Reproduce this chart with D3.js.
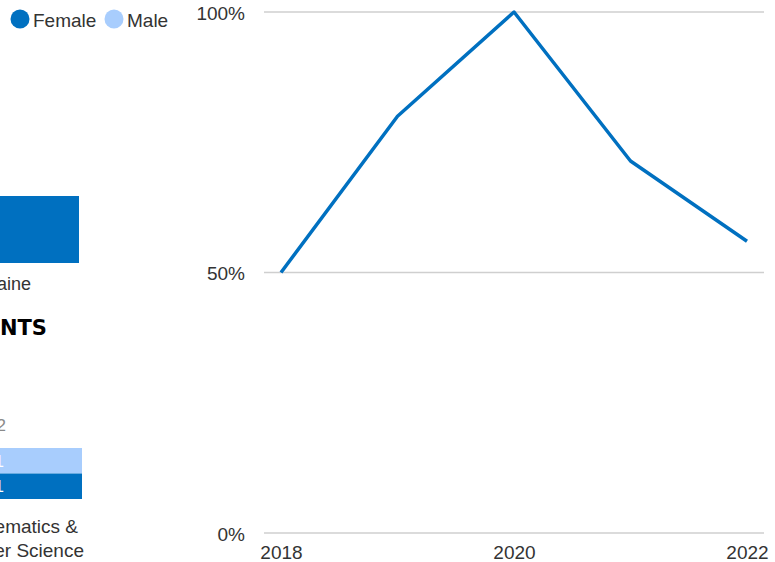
<!DOCTYPE html>
<html>
<head>
<meta charset="utf-8">
<script src="https://cdn.jsdelivr.net/npm/d3@7/dist/d3.min.js"></script>
<style>
  html, body { margin: 0; padding: 0; background: #fff; overflow: hidden; }
  svg { display: block; font-family: "Liberation Sans", Arial, sans-serif; }
</style>
</head>
<body>
<svg id="chart" width="775" height="562"></svg>
<script>
// ---- Data ----
const years = [2018, 2019, 2020, 2021, 2022];
const femaleShare = [0.50, 0.80, 1.00, 0.714, 0.56];
const yTickValues = [0, 0.5, 1];
const xTickValues = [2018, 2020, 2022];
const legendLabels = ["Female", "Male"];

// fragments of neighbouring visuals (cut off at the left edge)
const stateCategories = ["Maine"];
const stateValues = [2];
const fieldCategories = ["Mathematics & Computer Science"];
const fieldMale = [1];
const fieldFemale = [1];

const colors = { Female: "#0070c0", Male: "#a8cdfd" };
const textColor = "#333333";
const FONT = "'Liberation Sans', Arial, sans-serif";

const svg = d3.select("#chart");

// ---- Legend ----
const legend = svg.append("g");
const legendX = [20, 114];
legendLabels.forEach(function (name, i) {
  legend.append("circle").attr("cx", legendX[i]).attr("cy", 19).attr("r", 9.5).attr("fill", colors[name]);
  legend.append("text").attr("x", legendX[i] + 13).attr("y", 20).attr("dy", "0.35em")
    .attr("font-size", 19).attr("fill", textColor).text(name);
});

// ---- Line chart ----
const x = d3.scaleLinear().domain([2018, 2022]).range([281, 747]);
const y = d3.scaleLinear().domain([0, 1]).range([533, 12]);

const grid = svg.append("g");
grid.selectAll("line").data(yTickValues).join("line")
  .attr("x1", 264).attr("x2", 764)
  .attr("y1", d => y(d)).attr("y2", d => y(d))
  .attr("stroke", "#cfcfcf").attr("stroke-width", 1.5);

const yAxis = svg.append("g").attr("transform", "translate(245,1)")
  .call(d3.axisLeft(y).tickValues(yTickValues).tickFormat(d3.format(".0%")).tickSize(0).tickPadding(0));
yAxis.select(".domain").remove();
yAxis.selectAll("text").attr("font-size", 19).attr("fill", textColor).attr("font-family", FONT);

const xAxis = svg.append("g").attr("transform", "translate(0,545)")
  .call(d3.axisBottom(x).tickValues(xTickValues).tickFormat(d3.format("d")).tickSize(0).tickPadding(0));
xAxis.select(".domain").remove();
xAxis.selectAll("text").attr("font-size", 19).attr("fill", textColor).attr("font-family", FONT);

const line = d3.line().x((d, i) => x(years[i])).y(d => y(d));
svg.append("path").datum(femaleShare)
  .attr("d", line).attr("fill", "none")
  .attr("stroke", colors.Female).attr("stroke-width", 3.5)
  .attr("stroke-linejoin", "round").attr("stroke-linecap", "butt");

// ---- Left fragments ----
// state bar
const sx = d3.scaleLinear().domain([0, 2]).range([-120, 79]);
const sy = d3.scaleBand().domain(stateCategories).range([196, 263]);
svg.append("g").selectAll("rect").data(stateValues).join("rect")
  .attr("x", sx(0)).attr("y", (d, i) => sy(stateCategories[i]))
  .attr("width", d => sx(d) - sx(0)).attr("height", sy.bandwidth())
  .attr("fill", colors.Female);
svg.append("text").attr("x", 31).attr("y", 284).attr("dy", "0.35em")
  .attr("text-anchor", "end").attr("font-size", 18).attr("fill", textColor)
  .text(stateCategories[0]);

svg.append("text").attr("x", 47).attr("y", 328).attr("dy", "0.35em")
  .attr("text-anchor", "end").attr("font-size", 21).attr("font-weight", "bold")
  .attr("font-family", "'DejaVu Sans', sans-serif").attr("fill", "#000")
  .text("STUDENTS");

// field axis value label fragment
svg.append("text").attr("x", 6).attr("y", 425).attr("dy", "0.35em")
  .attr("text-anchor", "end").attr("font-size", 17).attr("fill", "#8a8a8a")
  .text("2");

// grouped bars
const fx = d3.scaleLinear().domain([0, 1]).range([-120, 82]);
const fy = d3.scaleBand().domain(["Male", "Female"]).range([448, 499]);
const groups = [
  { key: "Male", v: fieldMale[0] },
  { key: "Female", v: fieldFemale[0] }
];
svg.append("g").selectAll("rect").data(groups).join("rect")
  .attr("x", fx(0)).attr("y", d => fy(d.key))
  .attr("width", d => fx(d.v) - fx(0)).attr("height", fy.bandwidth())
  .attr("fill", d => colors[d.key]);
svg.append("g").selectAll("text").data(groups).join("text")
  .attr("x", 4).attr("y", d => fy(d.key) + fy.bandwidth() / 2).attr("dy", "0.35em")
  .attr("text-anchor", "end").attr("font-size", 17).attr("fill", "#fff")
  .text(d => d.v);

const fieldLines = ["Mathematics &", "Computer Science"];
svg.append("g").selectAll("text").data(fieldLines).join("text")
  .attr("x", (d, i) => i === 0 ? 78 : 84).attr("y", (d, i) => 526 + i * 24).attr("dy", "0.35em")
  .attr("text-anchor", "end").attr("font-size", 19).attr("fill", textColor)
  .text(d => d);
</script>
</body>
</html>
